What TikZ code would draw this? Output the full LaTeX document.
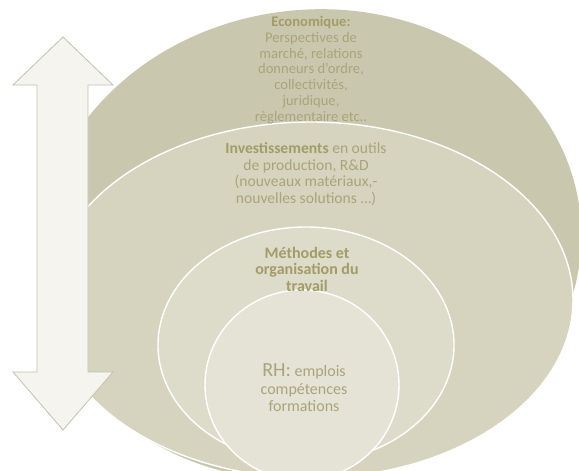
\documentclass[tikz,border=0pt]{standalone}
\usepackage{fontspec}
\setmainfont{Carlito}
\definecolor{ringa}{HTML}{CAC7AF}
\definecolor{ringb}{HTML}{D6D4BF}
\definecolor{ringc}{HTML}{DDDBC9}
\definecolor{ringd}{HTML}{E5E3D6}
\definecolor{arrowfill}{HTML}{F5F4EF}
\definecolor{arrowline}{HTML}{C4C1B0}
\definecolor{headc}{HTML}{A29C68}
\definecolor{bodyc}{HTML}{A9A47A}
\begin{document}
\begin{tikzpicture}[x=1pt,y=-1pt,line width=1.4pt,
  lbl/.style={align=center,inner sep=0pt,text=bodyc},
  ring/.style={draw=white,fill=#1}]
  \useasboundingbox (0,0) rectangle (579,471);
  \coordinate (ca) at (310,245);
  \coordinate (cb) at (311,300);
  \coordinate (cc) at (306,345);
  \coordinate (cd) at (302,385);
  \begin{scope}
    \clip (0,0) rectangle (579,471);
    \fill[ringa,rotate around={8:(ca)}] (ca) ellipse [x radius=272,y radius=235];
    \draw[ring=ringb] (cb) ellipse [x radius=262,y radius=178];
    \draw[ring=ringc] (cc) ellipse [x radius=148,y radius=118];
    \draw[ring=ringd] (cd) ellipse [x radius=97,y radius=95];
  \end{scope}
  % double arrow on the left
  \draw[draw=arrowline,fill=arrowfill,line width=.8pt,line join=miter]
    (63,37)--(113,85)--(88,85)--(88,372)--(113,372)--(63,430)
    --(13,372)--(37,372)--(37,85)--(13,85)--cycle;
  \node[lbl,font=\fontsize{14.6}{15.8}\selectfont] (eco) at (311,70)
    {\textcolor{headc}{\textbf{Economique:}}\\Perspectives de\\marché, relations\\donneurs d’ordre,\\collectivités,\\juridique,\\règlementaire etc..};
  \node[lbl,font=\fontsize{15.6}{16.5}\selectfont] (inv) at (306,174)
    {\textcolor{headc}{\textbf{Investissements}} en outils\\de production, R\&D\\(nouveaux matériaux,-\\nouvelles solutions …)};
  \node[lbl,text=headc,font=\fontsize{16}{16.5}\selectfont\bfseries] (meth) at (307,269)
    {Méthodes et\\organisation du\\travail};
  \node[lbl,font=\fontsize{16}{17.5}\selectfont] (rh) at (304,388)
    {{\fontsize{20}{20}\selectfont RH:} emplois\\compétences\\formations};
\end{tikzpicture}
\end{document}
